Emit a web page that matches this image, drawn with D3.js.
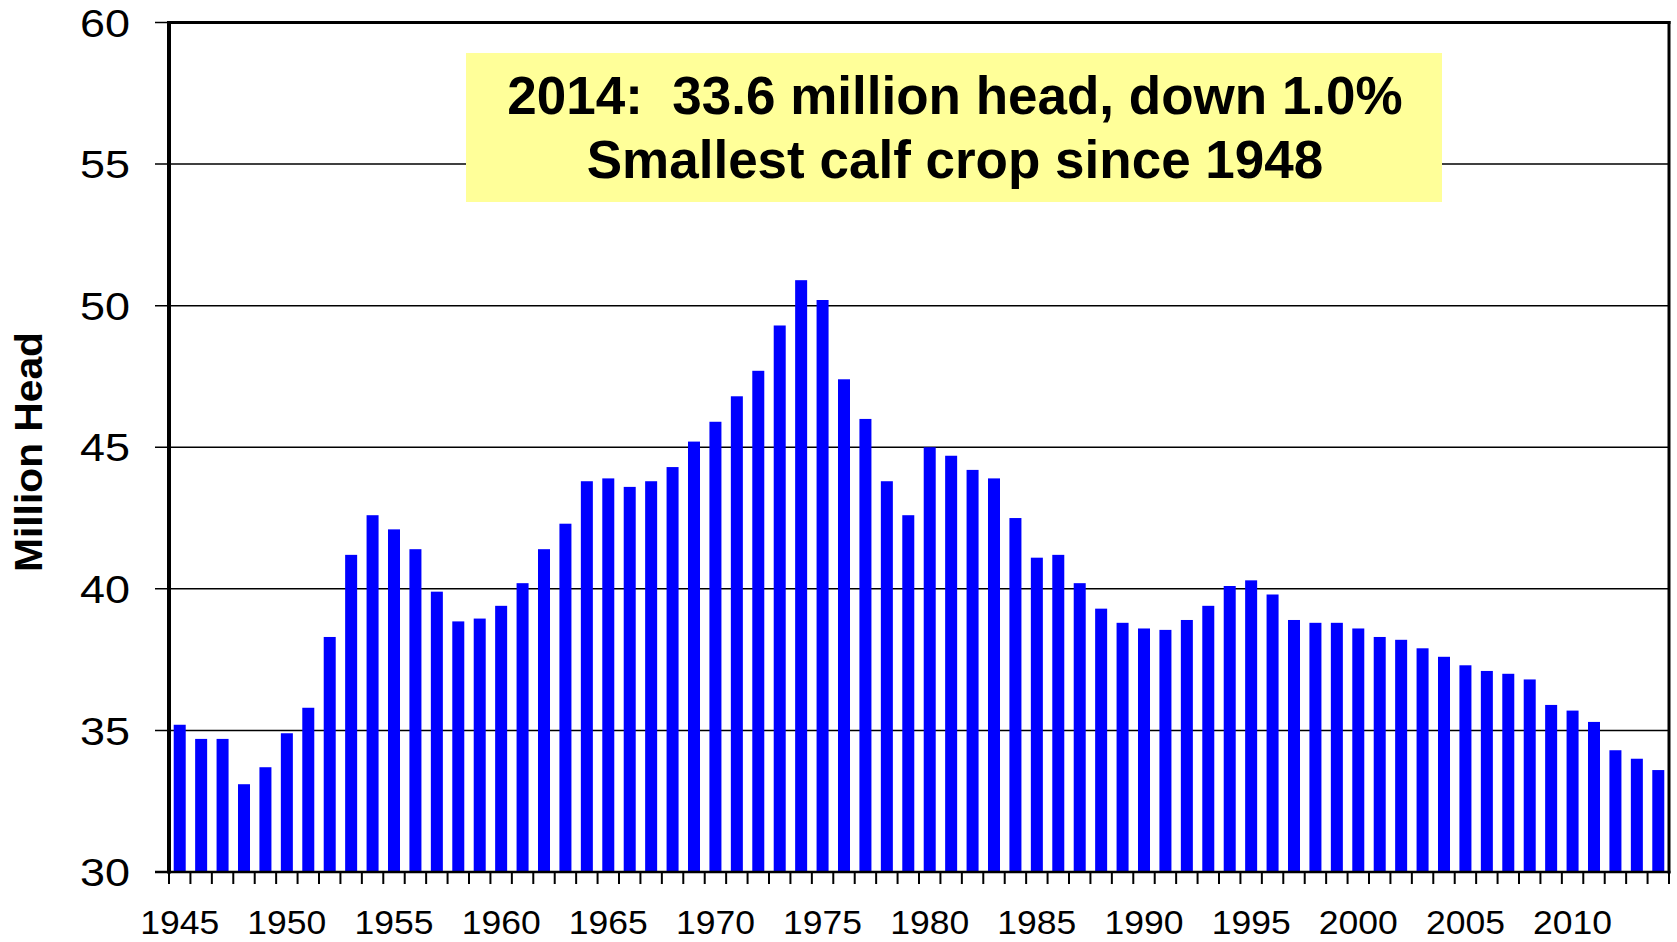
<!DOCTYPE html>
<html>
<head>
<meta charset="utf-8">
<script src="https://cdn.jsdelivr.net/npm/d3@7"></script>
<style>
  html, body { margin: 0; padding: 0; background: #ffffff; }
  svg { display: block; }
  text { font-family: "Liberation Sans", Arial, sans-serif; fill: #000; }
</style>
</head>
<body>
<svg id="chart" width="1677" height="942"></svg>
<script>
// ---- Data ----
const years = [
  1945, 1946, 1947, 1948, 1949, 1950, 1951, 1952, 1953, 1954,
  1955, 1956, 1957, 1958, 1959, 1960, 1961, 1962, 1963, 1964,
  1965, 1966, 1967, 1968, 1969, 1970, 1971, 1972, 1973, 1974,
  1975, 1976, 1977, 1978, 1979, 1980, 1981, 1982, 1983, 1984,
  1985, 1986, 1987, 1988, 1989, 1990, 1991, 1992, 1993, 1994,
  1995, 1996, 1997, 1998, 1999, 2000, 2001, 2002, 2003, 2004,
  2005, 2006, 2007, 2008, 2009, 2010, 2011, 2012, 2013, 2014
];
const calfCrop = [
  35.2, 34.7, 34.7, 33.1, 33.7, 34.9, 35.8, 38.3, 41.2, 42.6,
  42.1, 41.4, 39.9, 38.85, 38.95, 39.4, 40.2, 41.4, 42.3, 43.8,
  43.9, 43.6, 43.8, 44.3, 45.2, 45.9, 46.8, 47.7, 49.3, 50.9,
  50.2, 47.4, 46.0, 43.8, 42.6, 45.0, 44.7, 44.2, 43.9, 42.5,
  41.1, 41.2, 40.2, 39.3, 38.8, 38.6, 38.55, 38.9, 39.4, 40.1,
  40.3, 39.8, 38.9, 38.8, 38.8, 38.6, 38.3, 38.2, 37.9, 37.6,
  37.3, 37.1, 37.0, 36.8, 35.9, 35.7, 35.3, 34.3, 34.0, 33.6
];
const yTicks = [30, 35, 40, 45, 50, 55, 60];
const xLabelYears = [1945, 1950, 1955, 1960, 1965, 1970, 1975, 1980, 1985, 1990, 1995, 2000, 2005, 2010];
const yTitle = "Million Head";
const noteLines = ["2014:  33.6 million head, down 1.0%", "Smallest calf crop since 1948"];

// ---- Layout ----
const plotLeft = 169, plotRight = 1669, plotTop = 22.5, plotBottom = 872;
const svg = d3.select("#chart");

const x = d3.scaleBand().domain(years).range([plotLeft, plotRight]).paddingInner(0.44).paddingOuter(0.22);
const y = d3.scaleLinear().domain([30, 60]).range([plotBottom, plotTop]);

// gridlines (incl. small outward tick on the left)
svg.append("g").selectAll("line").data(yTicks).join("line")
  .attr("x1", plotLeft - 14).attr("x2", plotRight)
  .attr("y1", d => y(d)).attr("y2", d => y(d))
  .attr("stroke", "#000").attr("stroke-width", 1.5);

// annotation box (drawn over gridlines)
svg.append("rect")
  .attr("x", 466).attr("y", 53).attr("width", 976).attr("height", 149)
  .attr("fill", "#FFFF99");
svg.append("g").selectAll("text").data(noteLines).join("text")
  .attr("x", 955).attr("y", (d, i) => 114 + i * 64)
  .attr("text-anchor", "middle")
  .style("font-size", "53px").style("font-weight", "bold")
  .style("white-space", "pre")
  .attr("xml:space", "preserve")
  .text(d => d);

// bars
svg.append("g").selectAll("rect").data(years).join("rect")
  .attr("x", d => x(d))
  .attr("width", x.bandwidth())
  .attr("y", (d, i) => y(calfCrop[i]))
  .attr("height", (d, i) => y(30) - y(calfCrop[i]))
  .attr("fill", "#0000FF");

// y axis labels
const yAxis = d3.axisLeft(y).tickValues(yTicks).tickSize(0).tickPadding(39);
const gy = svg.append("g").attr("transform", `translate(${plotLeft},0)`).call(yAxis);
gy.select(".domain").remove();
gy.selectAll("text")
  .attr("font-family", null)
  .style("font-size", "38px")
  .attr("dy", "0.36em")
  .attr("textLength", 50).attr("lengthAdjust", "spacingAndGlyphs");

// x axis labels
const xAxis = d3.axisBottom(x).tickValues(xLabelYears).tickSize(0);
const gx = svg.append("g").attr("transform", `translate(0,${plotBottom})`).call(xAxis);
gx.select(".domain").remove();
gx.selectAll("text")
  .attr("font-family", null)
  .attr("y", 62).attr("dy", 0)
  .style("font-size", "33.5px")
  .attr("textLength", 79).attr("lengthAdjust", "spacingAndGlyphs");

// x tick marks at band boundaries
const half = (x.step() - x.bandwidth()) / 2;
const boundaries = years.map(d => x(d) - half).concat([x(years[years.length - 1]) + x.bandwidth() + half]);
svg.append("g").selectAll("line").data(boundaries).join("line")
  .attr("x1", d => d).attr("x2", d => d)
  .attr("y1", plotBottom).attr("y2", plotBottom + 12)
  .attr("stroke", "#000").attr("stroke-width", 2);

// plot frame
svg.append("line").attr("x1", plotLeft - 14).attr("x2", plotRight + 1.5).attr("y1", plotBottom).attr("y2", plotBottom)
  .attr("stroke", "#000").attr("stroke-width", 2.5);
svg.append("line").attr("x1", plotLeft).attr("x2", plotRight + 1.5).attr("y1", plotTop).attr("y2", plotTop)
  .attr("stroke", "#000").attr("stroke-width", 3);
svg.append("line").attr("x1", plotLeft).attr("x2", plotLeft).attr("y1", plotTop - 1.5).attr("y2", plotBottom + 1.5)
  .attr("stroke", "#000").attr("stroke-width", 4);
svg.append("line").attr("x1", plotRight).attr("x2", plotRight).attr("y1", plotTop - 1.5).attr("y2", plotBottom + 1.5)
  .attr("stroke", "#000").attr("stroke-width", 3);

// y title
svg.append("text")
  .attr("transform", "translate(42,452) rotate(-90)")
  .attr("text-anchor", "middle")
  .style("font-size", "38px").style("font-weight", "bold")
  .attr("textLength", 240).attr("lengthAdjust", "spacingAndGlyphs")
  .text(yTitle);
</script>
</body>
</html>
